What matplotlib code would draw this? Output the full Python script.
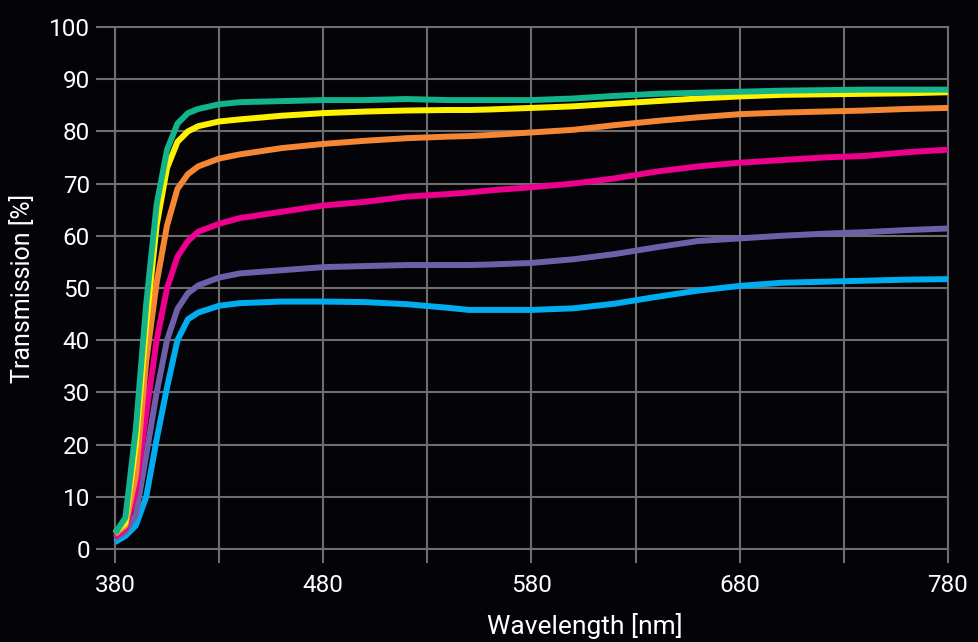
import matplotlib
matplotlib.use("Agg")
import matplotlib.pyplot as plt
import numpy as np

# wavelength samples [nm]
wl = [380, 385, 390, 395, 400, 405, 410, 415, 420, 430, 440, 460, 480, 500,
      520, 540, 550, 560, 580, 600, 620, 640, 660, 680, 700, 720, 740, 760, 780]

# transmission curves [%]
green = [3.0, 6.0, 23, 47, 66, 76.5, 81.5, 83.5, 84.3, 85.2, 85.6, 85.8, 86.0, 86.0,
         86.2, 86.0, 86.0, 86.0, 86.0, 86.3, 86.8, 87.2, 87.4, 87.6, 87.8, 87.9, 88.0, 88.0, 88.0]
yellow = [3.2, 5.0, 20, 43, 62, 73, 78, 80.0, 81.0, 81.9, 82.3, 83.0, 83.5, 83.8,
          84.0, 84.1, 84.1, 84.2, 84.5, 84.8, 85.3, 85.8, 86.3, 86.7, 87.0, 87.1, 87.2, 87.3, 87.5]
orange = [2.8, 4.5, 14, 36, 51, 62, 69, 71.8, 73.3, 74.8, 75.6, 76.8, 77.6, 78.2,
          78.7, 79.0, 79.1, 79.3, 79.8, 80.3, 81.2, 82.0, 82.7, 83.3, 83.6, 83.8, 84.0, 84.3, 84.5]
magenta = [2.3, 4.0, 11, 26, 40, 50, 56, 59.0, 60.8, 62.3, 63.4, 64.6, 65.8, 66.5,
           67.5, 68.0, 68.3, 68.7, 69.3, 70.0, 71.0, 72.3, 73.3, 74.0, 74.5, 75.0, 75.3, 76.0, 76.5]
purple = [2.0, 3.3, 6.5, 18, 30, 40, 46, 49, 50.5, 52.0, 52.8, 53.4, 54.0, 54.2,
          54.4, 54.4, 54.4, 54.5, 54.8, 55.5, 56.5, 57.8, 59.0, 59.5, 60.0, 60.4, 60.7, 61.1, 61.4]
blue = [1.3, 2.5, 4.5, 10, 21, 31, 40, 44.0, 45.3, 46.6, 47.1, 47.4, 47.4, 47.3,
        46.9, 46.2, 45.8, 45.8, 45.8, 46.1, 47.0, 48.3, 49.5, 50.4, 51.0, 51.2, 51.4, 51.6, 51.7]

series = [(blue, "#00aeef"), (purple, "#6e5fa8"), (magenta, "#ec008c"),
          (orange, "#f58634"), (yellow, "#fff200"), (green, "#13b38b")]

bg = "#030308"
grid_c = "#6e6e6e"
fnt = ["Roboto", "DejaVu Sans"]

fig = plt.figure(figsize=(9.79, 6.42), dpi=100, facecolor=bg)
ax = fig.add_axes([115/979, 1-549/642, (948-115)/979, (549-27)/642])
ax.set_facecolor(bg)

for y, c in series:
    ax.plot(wl, y, color=c, lw=4.3, solid_capstyle="butt", clip_on=False, zorder=3)

ax.set_xlim(380, 780)
ax.set_ylim(0, 100)
ax.set_xticks(np.arange(380, 781, 50), minor=True)
ax.set_xticks([380, 480, 580, 680, 780])
ax.set_yticks(np.arange(0, 101, 10))
ax.grid(True, which="both", color=grid_c, lw=1.5, zorder=1)
ax.tick_params(which="both", colors=grid_c, length=10, width=1.5, direction="out")
ax.tick_params(axis="y", labelcolor="white", labelsize=17.5, pad=4, length=14)
ax.tick_params(axis="x", labelcolor="white", labelsize=17.5, pad=8)
for s in ax.spines.values():
    s.set_color(grid_c)
    s.set_linewidth(1.5)
for lab in ax.get_xticklabels() + ax.get_yticklabels():
    lab.set_family(fnt)

ax.set_xlabel("Wavelength [nm]", color="white", fontsize=19, family=fnt)
ax.xaxis.set_label_coords((585-115)/833, -0.123)
ax.set_ylabel("Transmission [%]", color="white", fontsize=18, family=fnt, labelpad=10)

fig.savefig("out.png", dpi=100, facecolor=bg)
